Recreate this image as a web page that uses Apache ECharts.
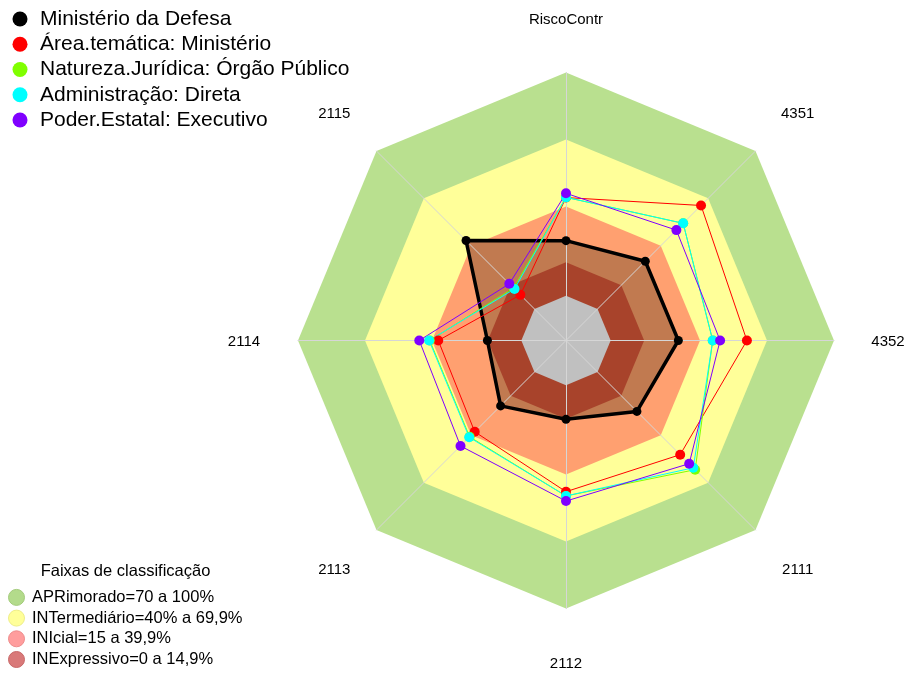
<!DOCTYPE html>
<html>
<head>
<meta charset="utf-8">
<script src="https://cdn.jsdelivr.net/npm/echarts@6/dist/echarts.min.js"></script>
<style>
  html, body { margin: 0; padding: 0; background: #ffffff; }
  #chart { width: 907px; height: 675px; }
</style>
</head>
<body>
<div id="chart"></div>
<script>
// Indicators, listed counter-clockwise from the top (radar layout order)
const categories = ['RiscoContr', '2115', '2114', '2113', '2112', '2111', '4352', '4351'];

// Scores (%) per indicator, same order as categories
const defesa           = [24.7, 43.3, 15.2, 21.4, 15.3, 24.9, 30.3, 30.2];
const areaTematica     = [44.0,  8.9, 37.2, 37.8, 47.7, 52.3, 61.0, 65.5];
const naturezaJuridica = [44.1, 13.2, 41.0, 41.0, 49.6, 61.8, 45.7, 54.2];
const administracao    = [44.1, 12.6, 41.3, 41.3, 49.6, 60.6, 45.7, 54.2];
const poderEstatal     = [45.9, 15.9, 45.7, 46.8, 51.9, 58.0, 49.0, 49.9];

const seriesNames = [
  'Ministério da Defesa',
  'Área.temática: Ministério',
  'Natureza.Jurídica: Órgão Público',
  'Administração: Direta',
  'Poder.Estatal: Executivo'
];

// Classification bands: upper limit of each band and its label
const bandNames  = ['APRimorado=70 a 100%', 'INTermediário=40% a 69,9%', 'INIcial=15 a 39,9%', 'INExpressivo=0 a 14,9%'];
const bandLimits = [100, 70, 40, 15];
const baseLimit  = 0;          // inner grey disc covers values below zero
const axisMin = -20, axisMax = 100;

// ---- styling / layout ----
const FONT = '"Liberation Sans", Arial, sans-serif';
const CX = 566, CY = 340.5, RADIUS = 268, LABEL_R = 322, DIAG_PAD = 4;
const seriesColors = ['#000000', '#ff0000', '#80ff00', '#00ffff', '#8000ff'];
const bandFill     = ['#b9e08f', '#ffff99', '#ffa070', '#a8432b'];
const bandLegend   = ['#b3db8b', '#ffff99', '#ff9d9d', '#d97979'];
const bandLegendBorder = ['#a3cb7b', '#eeee88', '#ee8c8c', '#c86868'];
const coreFill = '#c0c0c0';
const defesaFill = '#c17a50';

const chart = echarts.init(document.getElementById('chart'), null, { renderer: 'canvas' });

const indicator = categories.map(name => ({ name: name, min: axisMin, max: axisMax }));
const flat = v => categories.map(() => v);

function fillSeries(name, values, color) {
  return {
    type: 'radar', radarIndex: 0, z: 1, name: name, silent: true,
    symbol: 'none',
    lineStyle: { width: 0, opacity: 0 },
    areaStyle: { color: color, opacity: 1 },
    data: [{ value: values, name: name }]
  };
}

function lineSeries(i, values, width, size) {
  return {
    type: 'radar', radarIndex: 0, z: 5, name: seriesNames[i],
    symbol: 'circle', symbolSize: size,
    itemStyle: { color: seriesColors[i], borderWidth: 0 },
    lineStyle: { color: seriesColors[i], width: width, opacity: 1 },
    data: [{ value: values, name: seriesNames[i] }]
  };
}

const series = [];
// outer bands (largest first)
series.push(fillSeries(bandNames[0], flat(bandLimits[0]), bandFill[0]));
series.push(fillSeries(bandNames[1], flat(bandLimits[1]), bandFill[1]));
series.push(fillSeries(bandNames[2], flat(bandLimits[2]), bandFill[2]));
// filled area of the Ministério da Defesa profile
series.push(fillSeries(seriesNames[0], defesa, defesaFill));
// innermost bands on top of that area
series.push(fillSeries(bandNames[3], flat(bandLimits[3]), bandFill[3]));
series.push(fillSeries('core', flat(baseLimit), coreFill));
// profiles
series.push(lineSeries(0, defesa, 3.5, 9));
series.push(lineSeries(1, areaTematica, 1, 10));
series.push(lineSeries(2, naturezaJuridica, 1, 10));
series.push(lineSeries(3, administracao, 1, 10));
series.push(lineSeries(4, poderEstatal, 1, 10));

// indicator names placed around the polygon (diagonal ones pushed a bit sideways)
const n = categories.length;
const axisLabels = categories.map((name, i) => {
  const a = (90 + i * 360 / n) * Math.PI / 180;
  const c = Math.cos(a), s = Math.sin(a);
  const side = Math.abs(c) > 0.01 && Math.abs(s) > 0.01 ? Math.sign(c) * DIAG_PAD : 0;
  return {
    type: 'text', silent: true,
    x: CX + LABEL_R * c + side,
    y: CY + 1.5 - LABEL_R * s,
    style: { text: name, fill: '#000', font: '15px ' + FONT, textAlign: 'center', textVerticalAlign: 'middle' }
  };
});

const radarBase = {
  center: [CX, CY], radius: RADIUS, startAngle: 90, shape: 'polygon',
  indicator: indicator, splitNumber: 1,
  axisName: { show: false },
  splitLine: { show: false },
  splitArea: { show: false },
  axisTick: { show: false },
  axisLabel: { show: false }
};

chart.setOption({
  animation: false,
  backgroundColor: '#ffffff',
  radar: [
    Object.assign({}, radarBase, { z: 0, axisLine: { show: false } }),
    Object.assign({}, radarBase, { z: 3, axisLine: { show: true, lineStyle: { color: '#d6d6d6', width: 1 } } })
  ],
  legend: [
    {
      orient: 'vertical', left: 7.5, top: 3.5, height: 140,
      icon: 'circle', itemWidth: 30, itemHeight: 15, itemGap: 4.25,
      selectedMode: false,
      textStyle: { fontSize: 21, color: '#000', fontFamily: FONT },
      data: seriesNames.map((nm, i) => ({ name: nm, itemStyle: { color: seriesColors[i], borderWidth: 0 } }))
    },
    {
      orient: 'vertical', left: 3, top: 583.9, height: 110,
      icon: 'circle', itemWidth: 21, itemHeight: 16, itemGap: 3.7,
      selectedMode: false,
      textStyle: { fontSize: 16.5, color: '#000', fontFamily: FONT },
      data: bandNames.map((nm, i) => ({ name: nm, itemStyle: { color: bandLegend[i], borderColor: bandLegendBorder[i], borderWidth: 1 } }))
    }
  ],
  graphic: axisLabels.concat([{
    type: 'text', silent: true, x: 125.5, y: 571.7,
    style: { text: 'Faixas de classificação', fill: '#000', font: '16.5px ' + FONT, textAlign: 'center', textVerticalAlign: 'middle' }
  }]),
  series: series
});
</script>
</body>
</html>
